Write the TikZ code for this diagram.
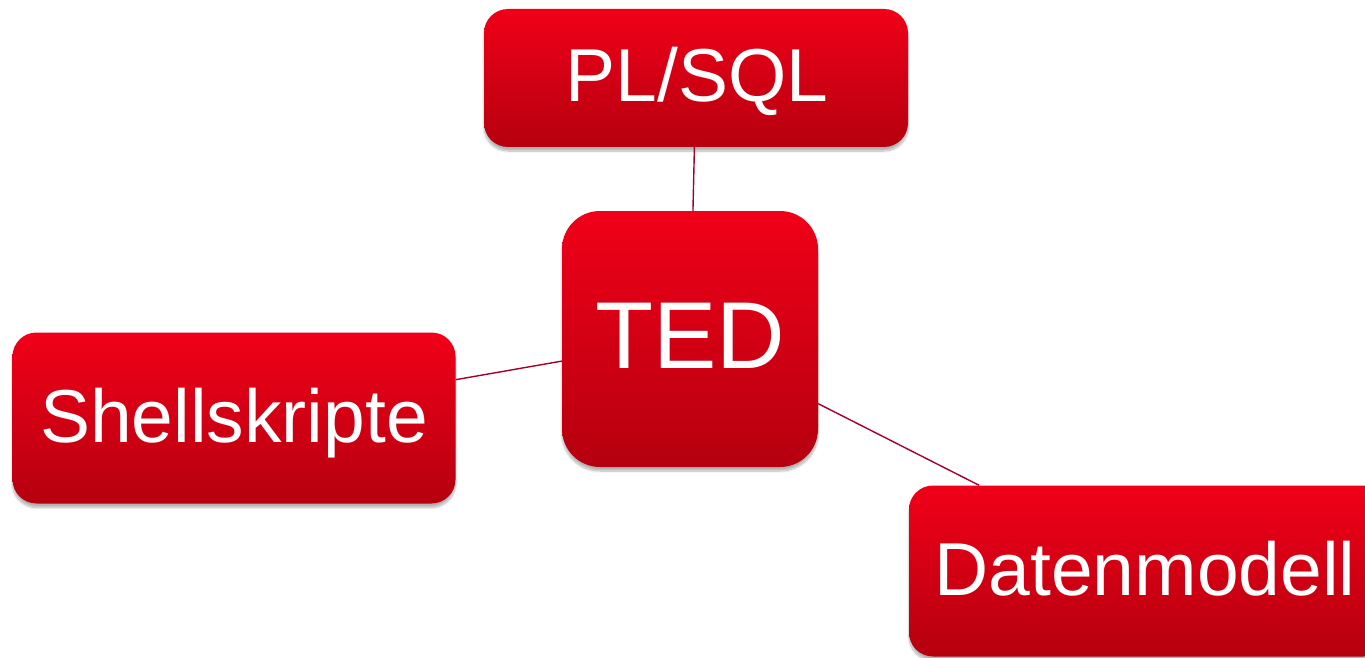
\documentclass[tikz,border=0pt]{standalone}
\usepackage{fontspec}
\setmainfont{Liberation Sans}
\usetikzlibrary{shadows.blur}
\definecolor{boxtop}{HTML}{F00018}
\definecolor{boxbottom}{HTML}{B5000F}
\definecolor{linkred}{HTML}{A3002A}
\tikzset{
  topic/.style={
    rectangle, rounded corners=#1, inner sep=0pt,
    top color=boxtop, bottom color=boxbottom, draw=none,
    text=white, font=\fontsize{75}{82}\selectfont,
    text height=54pt, text depth=6pt,
    blur shadow={shadow xshift=0pt, shadow yshift=-4pt,
      shadow blur steps=10, shadow blur extra rounding=4pt, shadow opacity=30}
  },
  topic/.default=24pt,
  link/.style={draw=linkred, line width=1.4pt}
}
\begin{document}
\begin{tikzpicture}[x=1pt, y=-1pt]
  \useasboundingbox (0,0) rectangle (1365,658);
  \clip (0,0) rectangle (1365,658);
  % topic boxes
  \node[topic, minimum width=424pt, minimum height=138pt] (plsql) at (696,78) {\hspace*{2pt}PL/SQL};
  \node[topic=38pt, minimum width=256pt, minimum height=256pt,
        font=\fontsize{95}{100}\selectfont, text height=68pt, text depth=10pt] (ted) at (690,339) {TED};
  \node[topic, minimum width=443pt, minimum height=171pt] (shell) at (234,418) {Shellskripte};
  \node[topic, minimum width=478pt, minimum height=171pt] (daten) at (1148,571) {\hspace*{-6pt}Datenmodell};
  % connectors between the centre and each topic
  \draw[link] (plsql) -- (ted);
  \draw[link] (shell) -- (ted);
  \draw[link] (ted) -- (daten);
\end{tikzpicture}
\end{document}
